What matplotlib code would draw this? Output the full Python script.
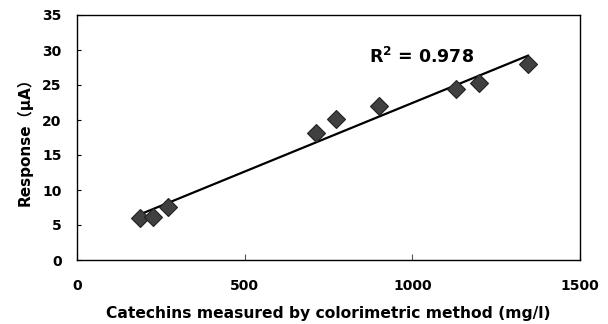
import numpy as np
import matplotlib
matplotlib.use("Agg")
import matplotlib.pyplot as plt

# Catechins (mg/l, colorimetric) vs sensor response (uA)
catechins = [188, 227, 271, 713, 771, 901, 1130, 1199, 1345]
response = [6.0, 6.1, 7.6, 18.2, 20.1, 22.0, 24.4, 25.3, 28.0]
x_ticks = [0, 500, 1000, 1500]
y_ticks = [0, 5, 10, 15, 20, 25, 30, 35]
r2_label = "R$^\\mathbf{2}$ = 0.978"

plt.rcParams["font.family"] = ["DejaVu Sans", "Noto Sans CJK JP"]
plt.rcParams["font.weight"] = "bold"
plt.rcParams["mathtext.default"] = "bf"

fig = plt.figure(figsize=(6.08, 3.24), dpi=100)
ax = fig.add_axes([77 / 608, 1 - 260 / 324, (580 - 77) / 608, (260 - 15) / 324])

# linear trendline over the data range
slope, intercept = np.polyfit(catechins, response, 1)
xs = np.array([min(catechins), max(catechins)])
ax.plot(xs, slope * xs + intercept, color="black", lw=1.6, zorder=2)

ax.plot(catechins, response, linestyle="none", marker="D", ms=9.5,
        mfc="#404040", mec="#202020", mew=0.8, zorder=3)

ax.text(0.58, 0.805, r2_label, transform=ax.transAxes, fontsize=12.5,
        fontweight="bold", va="baseline")

ax.set_xlim(0, 1500)
ax.set_ylim(0, 35)
ax.set_xticks(x_ticks)
ax.set_yticks(y_ticks)
ax.tick_params(axis="x", direction="in", length=4, width=0.8, pad=14,
               labelsize=10, color="#555555")
ax.tick_params(axis="y", direction="in", length=3, width=0.8, pad=11,
               labelsize=10)
for s in ax.spines.values():
    s.set_linewidth(1.0)

ax.set_xlabel("Catechins measured by colorimetric method (mg/l)",
              fontsize=11.2, fontweight="bold", labelpad=9)
ax.set_ylabel("Response（μA）", fontsize=11, fontweight="bold", labelpad=7)

fig.savefig("out.png", dpi=100)
